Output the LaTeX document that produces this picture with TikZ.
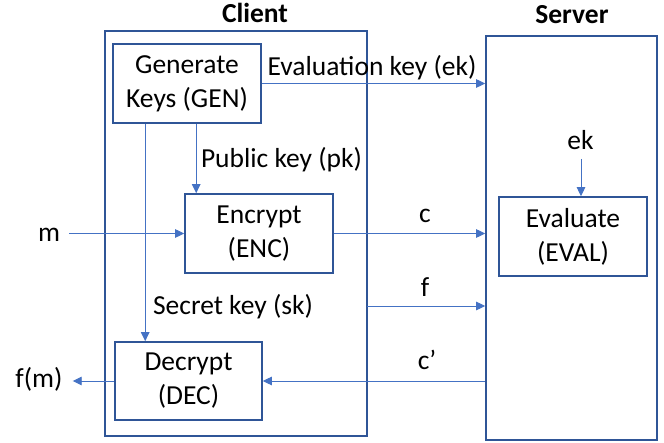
\documentclass[tikz,border=0pt]{standalone}
\usepackage{fontspec}
\setmainfont{Carlito}
\usepackage{xcolor}
\usetikzlibrary{arrows.meta}

\definecolor{boxblue}{RGB}{47,85,151}
\definecolor{linkblue}{RGB}{68,114,196}

\tikzset{
  block/.style={draw=boxblue,line width=1.6pt,inner sep=0pt},
  flow/.style={draw=linkblue,line width=0.9pt,-{Triangle[length=9pt,width=8.5pt]}},
  lbl/.style={anchor=base,inner sep=0pt}
}

\begin{document}
\begin{tikzpicture}[x=1pt,y=-1pt,font=\fontsize{27.5}{34}\selectfont]
    \useasboundingbox (0,0) rectangle (664,443);

                        % the two sides
                        \node (client) at (236,233.5) [block,minimum width=262pt,minimum height=405pt] {};
                        \node (server) at (571.5,238) [block,minimum width=171pt,minimum height=404pt] {};
                        \node (clienttitle) at (255,23) [lbl] {\bfseries Client};
                        \node (servertitle) at (572,24) [lbl] {\bfseries Server};

                        % steps
                        \node (gen) at (187,83.5) [block,minimum width=148pt,minimum height=79pt,align=center] {Generate\\Keys (GEN)};
                        \node (enc) at (259,233.5) [block,minimum width=148pt,minimum height=79pt,align=center] {Encrypt\\(ENC)};
                        \node (eval) at (573,236.5) [block,minimum width=148pt,minimum height=79pt,align=center] {Evaluate\\(EVAL)};
                        \node (dec) at (188.5,381) [block,minimum width=147pt,minimum height=78pt,align=center] {Decrypt\\(DEC)};

                        % texts
                        \node (m) at (49,242) [lbl] {m};
                        \node (fm) at (39,388) [lbl] {f(m)};
                        \node (ek) at (580.5,150) [lbl] {ek};
                        \node (eklbl) at (372,76) [lbl] {Evaluation key (ek)};
                        \node (pklbl) at (281.5,168) [lbl] {Public key (pk)};
                        \node (sklbl) at (233,315) [lbl] {Secret key (sk)};
                        \node (clbl) at (425,223) [lbl] {c};
                        \node (flbl) at (425,297) [lbl] {f};
                        \node (cplbl) at (427,370) [lbl] {c’};

                        \coordinate (pk) at ([xshift=12pt]enc.north west);
                        \coordinate (sk) at ([xshift=31pt]dec.north west);
                        \coordinate (fout) at (367,306);
                        \coordinate (ekin) at (581,159);

                    \draw[flow] (gen.east) -- (gen.east -| server.west);
                    \draw[flow] (pk |- gen.south) -- (pk);
                    \draw[flow] (sk |- gen.south) -- (sk);
                    \draw[flow] ([xshift=9pt]m.east |- enc.west) -- (enc.west);
                    \draw[flow] (enc.east) -- (enc.east -| server.west);
                    \draw[flow] (ekin) -- (ekin |- eval.north);
                    \draw[flow] (fout) -- (fout -| server.west);
                    \draw[flow] (dec.east -| server.west) -- (dec.east);
                    \draw[flow] (dec.west) -- ([xshift=10pt]fm.east |- dec.west);
                \end{tikzpicture}
\end{document}
